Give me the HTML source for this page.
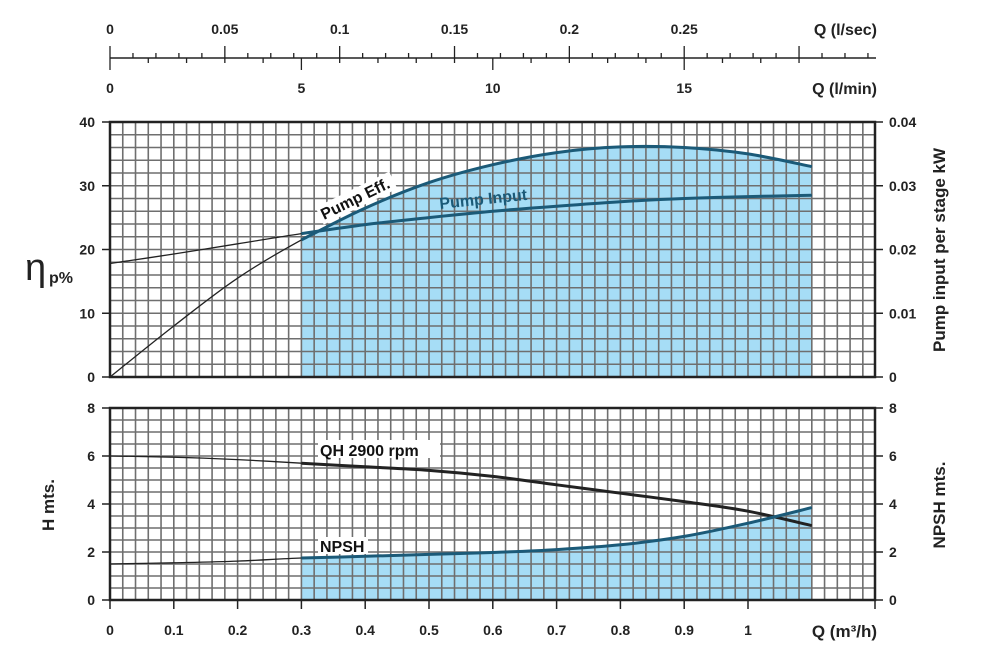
<!DOCTYPE html>
<html><head><meta charset="utf-8"><style>
body{margin:0;background:#fff;width:1000px;height:666px;overflow:hidden}
svg{font-family:"Liberation Sans",Arial,sans-serif;font-weight:bold}
</style></head><body>
<svg id="c" width="1000" height="666" viewBox="0 0 1000 666"></svg>
<script>
const qVals=[0,0.1,0.2,0.3,0.4,0.5,0.6,0.7,0.8,0.9,1.0,1.1];
const effVals=[0,8,15.5,21.5,26.5,30.5,33.3,35.2,36.1,36,35,33];
const inputVals=[0.0178,0.0193,0.0209,0.0225,0.0239,0.025,0.026,0.0268,0.0275,0.028,0.0283,0.0285];
const qhVals=[6,5.95,5.85,5.7,5.55,5.4,5.15,4.8,4.45,4.1,3.7,3.1];
const npshVals=[1.5,1.55,1.62,1.75,1.82,1.9,1.98,2.1,2.3,2.65,3.2,3.85];
const qTicks=[0,0.1,0.2,0.3,0.4,0.5,0.6,0.7,0.8,0.9,1];
const lsTicks=[0,0.05,0.1,0.15,0.2,0.25];
const lmTicks=[0,5,10,15];
const effTicks=[0,10,20,30,40];
const kwTicks=[0,0.01,0.02,0.03,0.04];
const hTicks=[0,2,4,6,8];
const shadeStart=0.3, shadeEnd=1.1;

const NS="http://www.w3.org/2000/svg",svg=document.getElementById('c');
const X=q=>110+q*638;
const YE=v=>377-v*6.375, YK=v=>377-v*6375, YH=v=>600-v*24;
function el(t,a,txt,name,p){const e=document.createElementNS(NS,t);for(const k in a)e.setAttribute(k,a[k]);if(txt!==undefined)e.textContent=txt;


(p||svg).appendChild(e);return e;}
function grid(y0,y1,rows,name){
 const g=el('g',{},undefined,name);
 for(let i=1;i<60;i++){const x=110+i*12.76;if(x>875)break;el('line',{x1:x,x2:x,y1:y0,y2:y1,stroke:'#6f6f6f','stroke-width':1.6},undefined,'grid-v',g);}
 const h=(y1-y0)/rows;for(let i=1;i<rows;i++)el('line',{x1:110,x2:875,y1:y0+i*h,y2:y0+i*h,stroke:'#6f6f6f','stroke-width':1.6},undefined,'grid-h',g);
}
function curve(xs,ys,yf){
 const p=xs.map((q,i)=>[X(q),yf(ys[i])]);
 let d='M'+p[0][0].toFixed(1)+','+p[0][1].toFixed(1);
 for(let i=0;i<p.length-1;i++){
  const p0=p[i-1]||p[i],p1=p[i],p2=p[i+1],p3=p[i+2]||p[i+1];
  const c1=[p1[0]+(p2[0]-p0[0])/6,p1[1]+(p2[1]-p0[1])/6];
  const c2=[p2[0]-(p3[0]-p1[0])/6,p2[1]-(p3[1]-p1[1])/6];
  d+=`C${c1[0].toFixed(1)},${c1[1].toFixed(1)} ${c2[0].toFixed(1)},${c2[1].toFixed(1)} ${p2[0].toFixed(1)},${p2[1].toFixed(1)}`;
 }
 return d;}
function sub(xs,ys,a,b){const rx=[],ry=[];xs.forEach((q,i)=>{if(q>=a-1e-9&&q<=b+1e-9){rx.push(q);ry.push(ys[i]);}});return [rx,ry];}
// top scales
el('line',{x1:110,x2:876,y1:58,y2:58,stroke:'#222','stroke-width':1.5},undefined,'top-scale-line');
for(let i=0;i<=33;i++){const x=X(i*0.01*3.6);el('line',{x1:x,x2:x,y1:i%5?53:46,y2:58,stroke:'#222','stroke-width':1.3},undefined,'ls-tick');}
for(let i=0;i<=18;i++){const x=X(i*0.06);el('line',{x1:x,x2:x,y1:58,y2:i%5?63:70,stroke:'#222','stroke-width':1.3},undefined,'lmin-tick');}
lsTicks.forEach(v=>el('text',{x:X(v*3.6),y:34,'text-anchor':'middle','font-size':14,fill:'#222'},String(v),'ls-label'));
lmTicks.forEach(v=>el('text',{x:X(v*0.06),y:93,'text-anchor':'middle','font-size':14,fill:'#222'},String(v),'lmin-label'));
el('text',{x:877,y:35,'text-anchor':'end','font-size':16,fill:'#222'},'Q (l/sec)','ls-axis-title');
el('text',{x:877,y:94,'text-anchor':'end','font-size':16,fill:'#222'},'Q (l/min)','lmin-axis-title');
// top chart
{const [sx,sy]=sub(qVals,effVals,shadeStart,shadeEnd);
 el('path',{d:curve(sx,sy,YE)+`L${X(shadeEnd)},377L${X(shadeStart)},377Z`,fill:'#a6ddf6'},undefined,'efficiency-shade');}
grid(122,377,20,'top-grid');
el('rect',{x:110,y:122,width:765,height:255,fill:'none',stroke:'#222','stroke-width':2.5},undefined,'top-plot-frame');
el('path',{d:curve(qVals,effVals,YE),fill:'none',stroke:'#222','stroke-width':1.3},undefined,'pump-eff-line');
el('path',{d:curve(qVals,inputVals,YK),fill:'none',stroke:'#222','stroke-width':1.3},undefined,'pump-input-line');
{const [a,b]=sub(qVals,effVals,0.3,1.1);el('path',{d:curve(a,b,YE),fill:'none',stroke:'#1b5a78','stroke-width':3},undefined,'pump-eff-curve');
 const [c,d]=sub(qVals,inputVals,0.3,1.1);el('path',{d:curve(c,d,YK),fill:'none',stroke:'#1b5a78','stroke-width':3},undefined,'pump-input-curve');}
effTicks.forEach(v=>{el('line',{x1:102,x2:110,y1:YE(v),y2:YE(v),stroke:'#222','stroke-width':1.5},undefined,'eff-tick');
 el('text',{x:95,y:YE(v)+5,'text-anchor':'end','font-size':14,fill:'#222'},String(v),'eff-tick-label');});
kwTicks.forEach(v=>{el('line',{x1:875,x2:883,y1:YK(v),y2:YK(v),stroke:'#222','stroke-width':1.5},undefined,'kw-tick');
 el('text',{x:889,y:YK(v)+5,'font-size':14,fill:'#222'},String(v),'kw-tick-label');});
el('text',{x:25,y:280,'font-size':38,'font-weight':'normal',fill:'#222'},'η','eff-axis-title');
el('text',{x:49,y:283,'font-size':16,fill:'#222'},'p%','eff-axis-subtitle');
el('text',{x:0,y:0,transform:'translate(945,250) rotate(-90)','text-anchor':'middle','font-size':17,fill:'#222'},'Pump input per stage kW','kw-axis-title');
el('rect',{x:0,y:-15,width:82,height:19,fill:'#fff',transform:'translate(322,221) rotate(-26)'},undefined,'eff-label-bg');
el('text',{x:0,y:0,transform:'translate(324,220) rotate(-26)','font-size':16,fill:'#111'},'Pump Eff.','pump-eff-label');
el('text',{x:0,y:0,transform:'translate(440,209) rotate(-6)','font-size':16,fill:'#1b5a78'},'Pump Input','pump-input-label');
// bottom chart
{const [sx,sy]=sub(qVals,npshVals,shadeStart,shadeEnd);
 el('path',{d:curve(sx,sy,YH)+`L${X(shadeEnd)},600L${X(shadeStart)},600Z`,fill:'#a6ddf6'},undefined,'npsh-shade');}
grid(408,600,16,'bottom-grid');
el('rect',{x:110,y:408,width:765,height:192,fill:'none',stroke:'#222','stroke-width':2.5},undefined,'bottom-plot-frame');
el('path',{d:curve(qVals,qhVals,YH),fill:'none',stroke:'#222','stroke-width':1.3},undefined,'qh-thin');
el('path',{d:curve(qVals,npshVals,YH),fill:'none',stroke:'#222','stroke-width':1.3},undefined,'npsh-thin');
{const [a,b]=sub(qVals,qhVals,0.3,1.1);el('path',{d:curve(a,b,YH),fill:'none',stroke:'#222','stroke-width':3},undefined,'qh-curve');
 const [c,d]=sub(qVals,npshVals,0.3,1.1);el('path',{d:curve(c,d,YH),fill:'none',stroke:'#1b5a78','stroke-width':3},undefined,'npsh-curve');}
hTicks.forEach(v=>{el('line',{x1:102,x2:110,y1:YH(v),y2:YH(v),stroke:'#222','stroke-width':1.5},undefined,'h-tick');
 el('text',{x:95,y:YH(v)+5,'text-anchor':'end','font-size':14,fill:'#222'},String(v),'h-tick-label');
 el('line',{x1:875,x2:883,y1:YH(v),y2:YH(v),stroke:'#222','stroke-width':1.5},undefined,'npsh-tick');
 el('text',{x:889,y:YH(v)+5,'font-size':14,fill:'#222'},String(v),'npsh-tick-label');});
el('line',{x1:875,x2:875,y1:600,y2:609,stroke:'#222','stroke-width':1.5},undefined,'q-end-tick');
qTicks.forEach(v=>{el('line',{x1:X(v),x2:X(v),y1:600,y2:609,stroke:'#222','stroke-width':1.5},undefined,'q-tick');
 el('text',{x:X(v),y:635,'text-anchor':'middle','font-size':14,fill:'#222'},String(v),'q-tick-label');});
el('text',{x:877,y:637,'text-anchor':'end','font-size':17,fill:'#222'},'Q (m³/h)','q-axis-title');
el('text',{x:0,y:0,transform:'translate(54,505) rotate(-90)','text-anchor':'middle','font-size':17,fill:'#222'},'H mts.','h-axis-title');
el('text',{x:0,y:0,transform:'translate(945,505) rotate(-90)','text-anchor':'middle','font-size':17,fill:'#222'},'NPSH mts.','npsh-axis-title');
el('rect',{x:318,y:440,width:122,height:18,fill:'#fff'},undefined,'qh-label-bg');
el('text',{x:320,y:456,'font-size':16,fill:'#111'},'QH 2900 rpm','qh-label');
el('rect',{x:318,y:537,width:50,height:17,fill:'#fff'},undefined,'npsh-label-bg');
el('text',{x:320,y:552,'font-size':16,fill:'#111'},'NPSH','npsh-label');
</script>
</body></html>
